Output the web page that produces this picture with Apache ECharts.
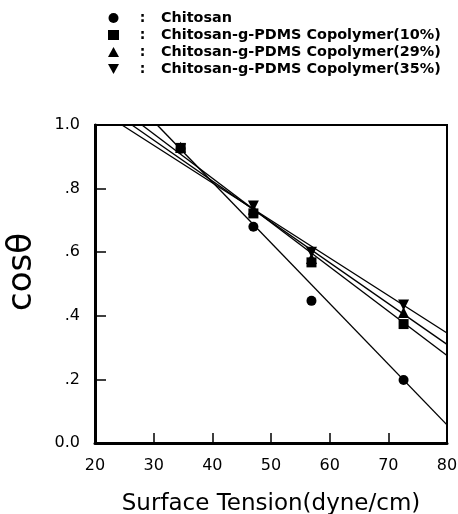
<!DOCTYPE html>
<html>
<head>
<meta charset="utf-8">
<script src="https://cdn.jsdelivr.net/npm/echarts@6/dist/echarts.min.js"></script>
<style>
  html, body { margin: 0; padding: 0; background: #fff; }
  #chart { width: 458px; height: 514px; }
</style>
</head>
<body>
<div id="chart"></div>
<script>
// surface tension of the test liquids (dyne/cm)
var tension = [34.6, 47.0, 56.9, 72.6];

// cos(theta) per sample
var chitosan = [0.925, 0.68, 0.447, 0.198];
var pdms10 = [0.928, 0.722, 0.568, 0.374];
var pdms29 = [0.93, 0.735, 0.58, 0.41];
var pdms35 = [0.925, 0.745, 0.60, 0.434];

// fitted lines, read as two end points [x, y]
var fitChitosan = [[30.6, 1.0], [80, 0.057]];
var fit10 = [[28.0, 1.0], [80, 0.275]];
var fit29 = [[26.3, 1.0], [80, 0.31]];
var fit35 = [[24.6, 1.0], [80, 0.346]];

var names = [
  'Chitosan',
  'Chitosan-g-PDMS Copolymer(10%)',
  'Chitosan-g-PDMS Copolymer(29%)',
  'Chitosan-g-PDMS Copolymer(35%)'
];
var yTickLabels = { 0: '0.0', 0.2: '.2', 0.4: '.4', 0.6: '.6', 0.8: '.8', 1: '1.0' };

var downTri = 'path://M0,0 L10,0 L5,9 Z';

function pts(ys) {
  return tension.map(function (x, i) { return [x, ys[i]]; });
}

var chart = echarts.init(document.getElementById('chart'));

var fitStyle = {
  type: 'line', symbol: 'none', silent: true, z: 2,
  lineStyle: { color: '#000', width: 1.4 }
};
var dot = { color: '#000', opacity: 1 };

chart.setOption({
  animation: false,
  textStyle: { fontFamily: 'DejaVu Sans', color: '#000' },
  legend: {
    data: [
      { name: names[0], icon: 'circle' },
      { name: names[1], icon: 'rect' },
      { name: names[2], icon: 'triangle' },
      { name: names[3], icon: downTri }
    ],
    orient: 'vertical',
    left: 103,
    top: 6,
    itemWidth: 11,
    itemHeight: 10,
    itemGap: 3,
    itemStyle: { color: '#000', opacity: 1 },
    textStyle: {
      fontFamily: 'DejaVu Sans',
      fontSize: 14,
      fontWeight: 'bold',
      color: '#000',
      rich: {
        c: { width: 37, align: 'center', fontSize: 14, fontWeight: 'bold', color: '#000' },
        t: { fontSize: 14.4, fontWeight: 'bold', color: '#000' }
      }
    },
    formatter: function (n) { return '{c|:}{t|' + n + '}'; }
  },
  grid: {
    left: 95, right: 11, top: 125, bottom: 71,
    outerBoundsMode: 'none',
    containLabel: false,
    show: true, borderColor: '#000', borderWidth: 2
  },
  xAxis: {
    type: 'value', min: 20, max: 80, interval: 10,
    name: 'Surface Tension(dyne/cm)',
    nameLocation: 'middle',
    nameGap: 50,
    nameTextStyle: { fontSize: 23, fontFamily: 'DejaVu Sans', color: '#000' },
    axisLine: { lineStyle: { color: '#000', width: 3 } },
    axisTick: { inside: true, length: 10, lineStyle: { color: '#000', width: 1.5 } },
    axisLabel: { fontSize: 16, margin: 15, color: '#000' },
    splitLine: { show: false }
  },
  yAxis: {
    type: 'value', min: 0, max: 1, interval: 0.2,
    name: 'cosθ',
    nameLocation: 'middle',
    nameGap: 56,
    nameTextStyle: {
      fontSize: 34, fontFamily: 'DejaVu Sans', color: '#000',
      padding: [0, 0, 0, 24]
    },
    axisLine: { lineStyle: { color: '#000', width: 3 } },
    axisTick: { inside: true, length: 11, lineStyle: { color: '#000', width: 1.5 } },
    axisLabel: {
      fontSize: 16, margin: 15, color: '#000',
      formatter: function (v) { return yTickLabels[Math.round(v * 10) / 10]; }
    },
    splitLine: { show: false }
  },
  series: [
    Object.assign({ name: 'fit0', data: fitChitosan }, fitStyle),
    Object.assign({ name: 'fit1', data: fit10 }, fitStyle),
    Object.assign({ name: 'fit2', data: fit29 }, fitStyle),
    Object.assign({ name: 'fit3', data: fit35 }, fitStyle),
    { name: names[0], type: 'scatter', symbol: 'circle', symbolSize: 10, z: 3,
      itemStyle: dot, data: pts(chitosan) },
    { name: names[1], type: 'scatter', symbol: 'rect', symbolSize: 10, z: 4,
      itemStyle: dot, data: pts(pdms10) },
    { name: names[2], type: 'scatter', symbol: 'triangle', symbolSize: 11, z: 4,
      itemStyle: dot, data: pts(pdms29) },
    { name: names[3], type: 'scatter', symbol: downTri, symbolSize: 11, z: 4,
      itemStyle: dot, data: pts(pdms35) }
  ]
});
</script>
</body>
</html>
